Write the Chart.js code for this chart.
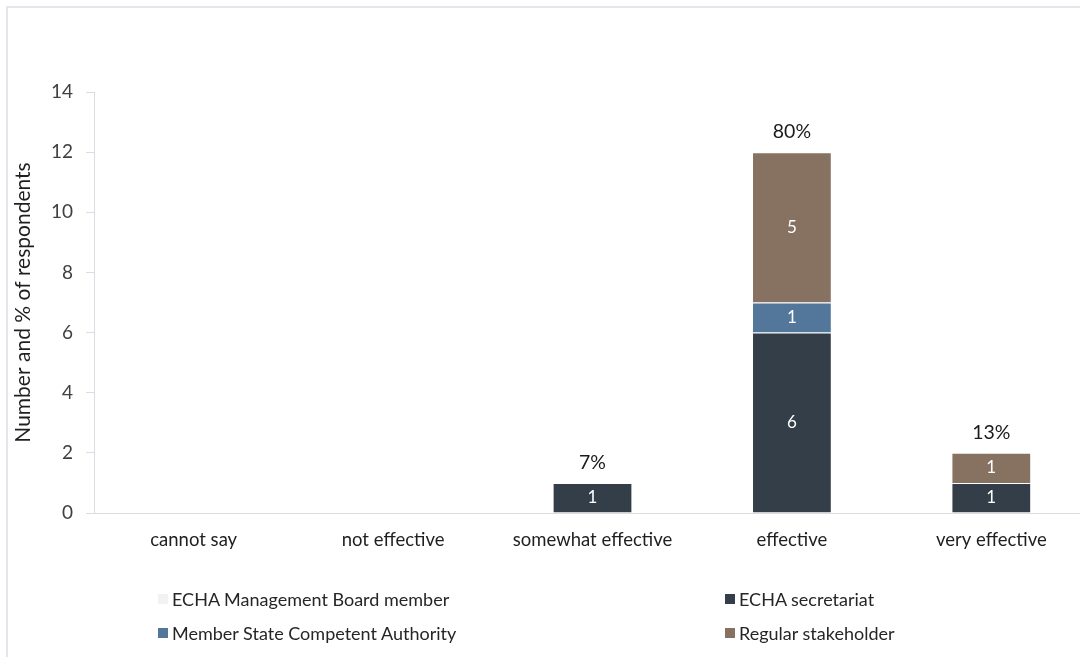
<!DOCTYPE html>
<html>
<head>
<meta charset="utf-8">
<script src="https://cdn.jsdelivr.net/npm/chart.js@4.4.1/dist/chart.umd.min.js"></script>
<style>
  html, body { margin: 0; padding: 0; background: #fff; overflow: hidden; }
  body { width: 1080px; height: 657px; position: relative; font-family: Lato, "Open Sans", sans-serif; }
  #frame { position: absolute; left: 6px; top: 6px; width: 1100px; height: 700px;
           border-left: 2px solid #e3e6ea; border-top: 2px solid #e3e6ea; }
  #wrap { position: absolute; left: 0; top: 0; width: 1100px; height: 657px; }
  #legend { position: absolute; left: 0; top: 0; width: 1080px; height: 657px; pointer-events: none; }
  .item { position: absolute; display: flex; align-items: center; font-size: 18px; line-height: 22px; color: #262626; white-space: nowrap; }
  .box { width: 10px; height: 10px; margin-right: 4px; }
</style>
</head>
<body>
<div id="frame"></div>
<div id="wrap"><canvas id="c" width="1100" height="657"></canvas></div>
<div id="legend"></div>
<script>
// Answer categories along the x axis
const categories = ['cannot say', 'not effective', 'somewhat effective', 'effective', 'very effective'];

// Respondents per group (stacked bottom to top after the empty board series)
const boardMember   = [0, 0, 0, 0, 0];
const secretariat   = [0, 0, 1, 6, 1];
const competentAuth = [0, 0, 0, 1, 0];
const stakeholder   = [0, 0, 0, 5, 1];

const seriesNames = ['ECHA Management Board member', 'ECHA secretariat',
                     'Member State Competent Authority', 'Regular stakeholder'];
const yTicks = [0, 2, 4, 6, 8, 10, 12, 14];

const colors = ['#f2f2f2', '#343e48', '#52779a', '#877262'];
const seriesData = [boardMember, secretariat, competentAuth, stakeholder];

const FONT = 'Lato, "Open Sans", sans-serif';

const datasets = seriesData.map((d, i) => ({
  label: seriesNames[i],
  data: d,
  backgroundColor: colors[i],
  borderColor: 'rgba(255,255,255,0.45)',
  borderWidth: 1,
  barPercentage: 0.8,
  categoryPercentage: 0.5
}));

// Numbers inside each segment and share of all respondents above each stack
const labelPlugin = {
  id: 'stackLabels',
  afterDatasetsDraw(chart) {
    const ctx = chart.ctx;
    const grand = seriesData.reduce((s, arr) => s + arr.reduce((a, b) => a + b, 0), 0);
    ctx.save();
    ctx.textAlign = 'center';
    ctx.textBaseline = 'middle';
    ctx.font = '17px ' + FONT;
    chart.data.datasets.forEach((ds, di) => {
      const meta = chart.getDatasetMeta(di);
      meta.data.forEach((bar, i) => {
        const v = ds.data[i];
        if (!v) return;
        ctx.fillStyle = '#ffffff';
        ctx.fillText(String(v), bar.x, (bar.y + bar.base) / 2);
      });
    });
    const yScale = chart.scales.y;
    const xScale = chart.scales.x;
    ctx.font = '19.5px ' + FONT;
    ctx.fillStyle = '#1a1a1a';
    categories.forEach((c, i) => {
      const total = seriesData.reduce((s, arr) => s + arr[i], 0);
      if (!total) return;
      const pct = Math.round(total / grand * 100) + '%';
      ctx.fillText(pct, xScale.getPixelForValue(i), yScale.getPixelForValue(total) - 20);
    });
    ctx.restore();
  }
};

const chart = new Chart(document.getElementById('c'), {
  type: 'bar',
  data: { labels: categories, datasets },
  plugins: [labelPlugin],
  options: {
    responsive: false,
    animation: false,
    events: [],
    layout: { padding: { left: 0, right: 9, top: 92, bottom: 0 } },
    plugins: { legend: { display: false }, tooltip: { enabled: false } },
    scales: {
      x: {
        stacked: true,
        grid: { display: false, drawTicks: false },
        border: { display: true, color: '#d9dde2', width: 1 },
        ticks: { color: '#1f1f1f', font: { family: FONT, size: 18.5 }, padding: 16, maxRotation: 0 },
        afterFit(s) { s.height = 144; }
      },
      y: {
        stacked: true,
        min: 0, max: 14,
        afterBuildTicks(s) { s.ticks = yTicks.map(v => ({ value: v })); },
        grid: { drawOnChartArea: false, drawTicks: true, tickLength: 8, color: '#d9dde2' },
        border: { display: true, color: '#d9dde2', width: 1 },
        ticks: { color: '#404040', font: { family: FONT, size: 19 }, padding: 13 },
        title: { display: true, text: 'Number and % of respondents', color: '#1f1f1f',
                 font: { family: FONT, size: 21 }, padding: { top: 11, bottom: 0 } },
        afterFit(s) { s.width = 94; }
      }
    }
  }
});

// Two-column legend built from the chart's datasets
const legend = document.getElementById('legend');
const slots = [[158, 599], [725, 599], [158, 633], [725, 633]];
chart.data.datasets.forEach((ds, i) => {
  const el = document.createElement('div');
  el.className = 'item';
  el.style.left = slots[i][0] + 'px';
  el.style.top = (slots[i][1] - 11) + 'px';
  const b = document.createElement('span');
  b.className = 'box';
  b.style.background = ds.backgroundColor;
  const t = document.createElement('span');
  t.textContent = ds.label;
  el.appendChild(b); el.appendChild(t);
  legend.appendChild(el);
});
</script>
</body>
</html>
